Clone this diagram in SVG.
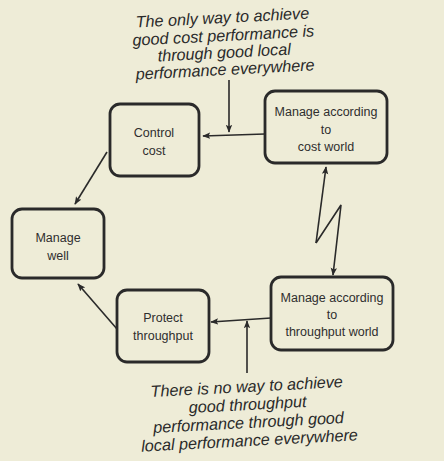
<svg xmlns="http://www.w3.org/2000/svg" width="444" height="461" viewBox="0 0 444 461">
<defs>
<marker id="ah" viewBox="0 0 10 10" refX="9" refY="5" markerWidth="8" markerHeight="8" markerUnits="userSpaceOnUse" orient="auto">
<path d="M0,1 L10,5 L0,9 L2,5 Z" fill="#2a2a2a"/>
</marker>
<style>
.box{fill:none;stroke:#2a2a2a;stroke-width:2.8}
.lbl{font-family:"Liberation Sans",Arial,sans-serif;font-size:12.5px;fill:#2e2e2e;text-anchor:middle}
.note{font-family:"Liberation Sans",Arial,sans-serif;font-size:16.2px;font-style:italic;fill:#2a2a2a;text-anchor:middle}
.con{fill:none;stroke:#2a2a2a;stroke-width:1.6}
</style>
</defs>
<rect width="444" height="461" fill="#eeecd7"/>
<g id="note-top" transform="rotate(-3 224 48)">
<text class="note" x="224" y="23">The only way to achieve</text>
<text class="note" x="224" y="41">good cost performance is</text>
<text class="note" x="224" y="58">through good local</text>
<text class="note" x="224" y="75">performance everywhere</text>
</g>
<g id="control-cost">
<rect class="box" x="110" y="104" width="89" height="72" rx="10"/>
<text class="lbl" x="154" y="137">Control</text>
<text class="lbl" x="154" y="155">cost</text>
</g>
<g id="manage-cost-world">
<rect class="box" x="265" y="91" width="122" height="72" rx="10"/>
<text class="lbl" x="326" y="116">Manage according</text>
<text class="lbl" x="326" y="134">to</text>
<text class="lbl" x="326" y="151">cost world</text>
</g>
<g id="manage-well">
<rect class="box" x="12" y="209" width="92" height="69" rx="10"/>
<text class="lbl" x="58" y="242">Manage</text>
<text class="lbl" x="58" y="260">well</text>
</g>
<g id="protect-throughput">
<rect class="box" x="117" y="290" width="92" height="72" rx="10"/>
<text class="lbl" x="163" y="322">Protect</text>
<text class="lbl" x="163" y="340">throughput</text>
</g>
<g id="manage-throughput-world">
<rect class="box" x="271" y="277" width="122" height="73" rx="10"/>
<text class="lbl" x="332" y="302">Manage according</text>
<text class="lbl" x="332" y="319">to</text>
<text class="lbl" x="332" y="336">throughput world</text>
</g>
<g id="note-bottom" transform="rotate(-3 248 412)">
<text class="note" x="248" y="392">There is no way to achieve</text>
<text class="note" x="248" y="410">good throughput</text>
<text class="note" x="248" y="428">performance through good</text>
<text class="note" x="248" y="446">local performance everywhere</text>
</g>
<g id="connectors">
<line class="con" x1="229" y1="80" x2="229" y2="132" marker-end="url(#ah)"/>
<line class="con" x1="265" y1="134" x2="203" y2="136" marker-end="url(#ah)"/>
<line class="con" x1="107" y1="152" x2="75" y2="204" marker-end="url(#ah)"/>
<line class="con" x1="117" y1="329" x2="78" y2="284" marker-end="url(#ah)"/>
<line class="con" x1="271" y1="318" x2="211" y2="322" marker-end="url(#ah)"/>
<line class="con" x1="247" y1="373" x2="247" y2="321" marker-end="url(#ah)"/>
<polyline class="con" points="316,243 326,167" marker-end="url(#ah)"/>
<polyline class="con" points="316,243 341,205 333,275" marker-end="url(#ah)"/>
</g>
</svg>
